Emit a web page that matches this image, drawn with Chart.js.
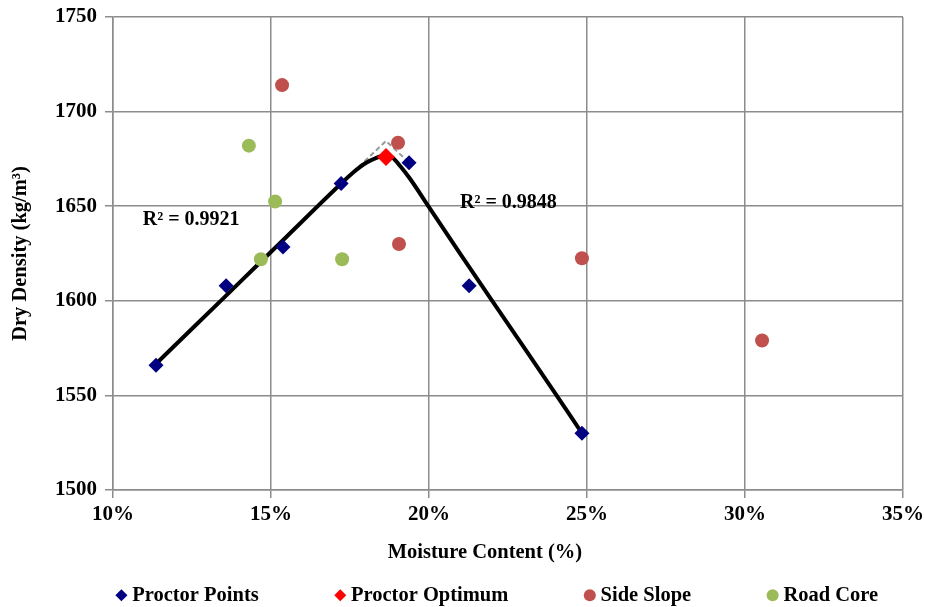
<!DOCTYPE html>
<html>
<head>
<meta charset="utf-8">
<script src="https://cdn.jsdelivr.net/npm/chart.js@4"></script>
<style>
  html, body { margin: 0; padding: 0; background: #fff; }
</style>
</head>
<body>
<canvas id="chart" width="925" height="607"></canvas>
<script>
// values (moisture %, dry density kg/m3)
const proctorX = [11.36, 13.58, 15.38, 17.22, 19.37, 21.27, 24.84];
const proctorY = [1566, 1608, 1628.5, 1662, 1673, 1608, 1530];

const optimumX = [18.64];
const optimumY = [1676];

const sideSlopeX = [15.35, 19.02, 19.05, 24.84, 30.54];
const sideSlopeY = [1714, 1683.5, 1630, 1622.5, 1579];

const roadCoreX = [14.30, 15.13, 14.68, 17.25];
const roadCoreY = [1682, 1652.5, 1622, 1622];

// black fitted curve
const fitX = [11.38, 12.5, 14.0, 15.5, 17.18, 17.6, 18.0, 18.3, 18.6, 18.85, 19.1, 19.4, 20.0, 21.0, 22.0, 23.0, 24.0, 24.84];
const fitY = [1567, 1585.2, 1609.6, 1634, 1661.3, 1667.8, 1672.8, 1675.3, 1676.6, 1675.5, 1671, 1664.5, 1649.5, 1624.5, 1600, 1575.5, 1551, 1530];

// grey dashed linear extensions meeting at the peak
const guideX = [17.22, 18.64, 19.37];
const guideY = [1662, 1684.5, 1673];

const xTicks = [10, 15, 20, 25, 30, 35];
const yTicks = [1500, 1550, 1600, 1650, 1700, 1750];

const r2Text = ['R\u00b2 = 0.9921', 'R\u00b2 = 0.9848'];

function pts(xs, ys) {
    return xs.map((x, i) => ({ x: x, y: ys[i] }));
}

const FONT = 'Liberation Serif, Times New Roman, serif';
const GRID = '#8c8c8c';

const r2Labels = {
    id: 'r2Labels',
    afterDatasetsDraw(chart) {
        const { ctx, scales } = chart;
        const anchors = [{ x: 10.94, y: 1642.7 }, { x: 20.98, y: 1651.7 }];
        ctx.save();
        ctx.font = 'bold 20px ' + FONT;
        ctx.fillStyle = '#000';
        ctx.textAlign = 'left';
        ctx.textBaseline = 'middle';
        anchors.forEach((a, i) => {
            ctx.fillText(r2Text[i], scales.x.getPixelForValue(a.x), scales.y.getPixelForValue(a.y));
        });
        ctx.restore();
    }
};

// legend sits a bit right of centre and close under the axis title
const legendNudge = {
    id: 'legendNudge',
    afterLayout(chart) {
        const lg = chart.legend;
        lg.left += 37;
        lg.right += 37;
        lg.top = 595 - 10 - lg.options.labels.padding;
    }
};

new Chart(document.getElementById('chart'), {
    type: 'scatter',
    data: {
        datasets: [
            {
                label: 'Proctor Points',
                data: pts(proctorX, proctorY),
                pointStyle: 'rectRot',
                pointRadius: 7.5,
                pointBorderWidth: 0,
                backgroundColor: '#000080',
                borderColor: '#000080'
            },
            {
                label: 'Proctor Optimum',
                data: pts(optimumX, optimumY),
                pointStyle: 'rectRot',
                pointRadius: 9,
                pointBorderWidth: 0,
                backgroundColor: '#ff0000',
                borderColor: '#ff0000'
            },
            {
                label: 'Side Slope',
                data: pts(sideSlopeX, sideSlopeY),
                pointStyle: 'circle',
                pointRadius: 7,
                pointBorderWidth: 0,
                backgroundColor: '#c0504d',
                borderColor: '#c0504d'
            },
            {
                label: 'Road Core',
                data: pts(roadCoreX, roadCoreY),
                pointStyle: 'circle',
                pointRadius: 7,
                pointBorderWidth: 0,
                backgroundColor: '#9bbb59',
                borderColor: '#9bbb59'
            },
            {
                label: 'fit',
                data: pts(fitX, fitY),
                showLine: true,
                pointRadius: 0,
                borderColor: '#000',
                borderWidth: 4,
                cubicInterpolationMode: 'monotone'
            },
            {
                label: 'guide',
                data: pts(guideX, guideY),
                showLine: true,
                pointRadius: 0,
                borderColor: '#999',
                borderWidth: 2,
                borderDash: [5, 3]
            }
        ]
    },
    options: {
        responsive: false,
        animation: false,
        layout: { padding: 0 },
        plugins: {
            tooltip: { enabled: false },
            legend: {
                position: 'bottom',
                maxHeight: 30,
                labels: {
                    usePointStyle: true,
                    boxWidth: 1,
                    boxHeight: 8.5,
                    padding: 81,
                    color: '#000',
                    font: { family: FONT, size: 20.5, weight: 'bold' },
                    filter: item => item.datasetIndex < 4
                }
            }
        },
        scales: {
            x: {
                type: 'linear',
                min: 10,
                max: 35,
                afterBuildTicks: s => { s.ticks = xTicks.map(v => ({ value: v })); },
                afterFit: s => {
                    s.height = 87;
                    s.paddingLeft = 0;
                    s.paddingRight = 22;
                },
                ticks: {
                    color: '#000',
                    padding: 4,
                    font: { family: FONT, size: 21, weight: 'bold' },
                    callback: v => v + '%'
                },
                grid: { color: GRID, lineWidth: 1.5, tickLength: 8 },
                border: { color: GRID, width: 1.5 },
                title: {
                    display: true,
                    text: 'Moisture Content (%)         ',
                    color: '#000',
                    font: { family: FONT, size: 20.5, weight: 'bold' },
                    padding: { top: 14, bottom: 12 }
                }
            },
            y: {
                type: 'linear',
                min: 1500,
                max: 1750,
                afterBuildTicks: s => { s.ticks = yTicks.map(v => ({ value: v })); },
                afterFit: s => {
                    s.width = 113;
                    s.paddingTop = 17;
                    s.paddingBottom = 0;
                },
                ticks: {
                    color: '#000',
                    padding: 8,
                    font: { family: FONT, size: 21, weight: 'bold' },
                    callback: v => String(v)
                },
                grid: { color: GRID, lineWidth: 1.5, tickLength: 8 },
                border: { color: GRID, width: 1.5 },
                title: {
                    display: true,
                    text: 'Dry Density (kg/m\u00b3)',
                    color: '#000',
                    font: { family: FONT, size: 20.5, weight: 'bold' },
                    padding: { top: 8, bottom: 6 }
                }
            }
        }
    },
    plugins: [r2Labels, legendNudge]
});
</script>
</body>
</html>
